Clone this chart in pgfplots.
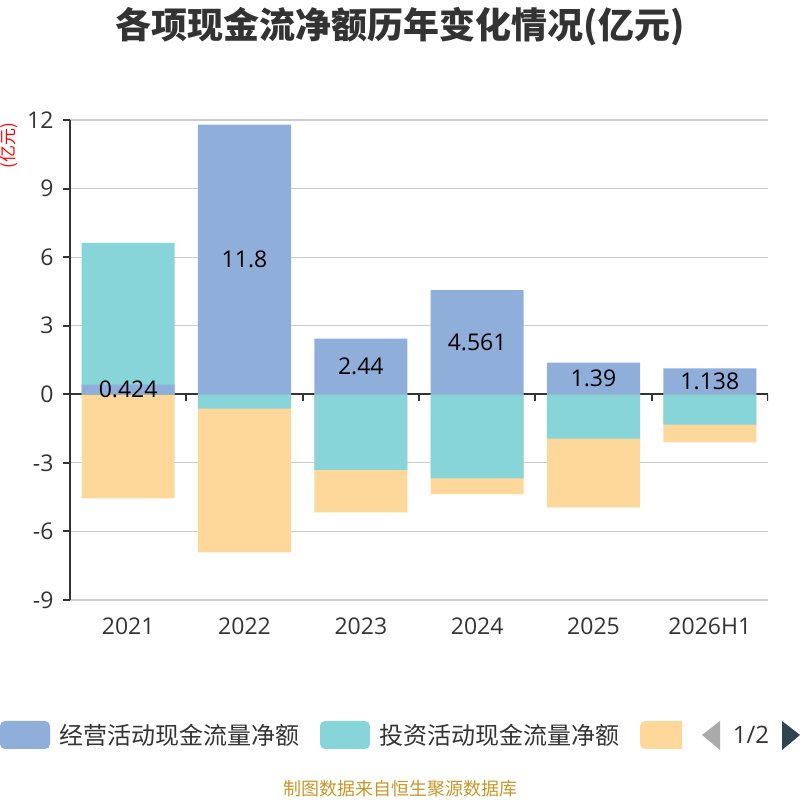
\documentclass[border=0pt]{standalone}
\usepackage{pgfplots}
\pgfplotsset{compat=1.18}
\usepackage{fontspec}
\setmainfont{Open Sans}
\newfontfamily\cjk{Noto Sans CJK SC}
\definecolor{cBlue}{RGB}{143,174,218}
\definecolor{cTeal}{RGB}{135,213,216}
\definecolor{cOrange}{RGB}{254,216,154}
\definecolor{txt}{RGB}{51,51,51}
\definecolor{gridc}{RGB}{204,204,204}
\definecolor{axc}{RGB}{51,51,51}
\definecolor{foot}{RGB}{200,150,40}
\definecolor{pgdark}{RGB}{47,69,84}
\definecolor{pggray}{RGB}{170,170,170}
\begin{document}
\begin{tikzpicture}
\path[use as bounding box] (0,0) rectangle (800pt,800pt);
\node[font=\cjk\bfseries\fontsize{36}{42}\selectfont, text=txt] at (400pt,773pt) {各项现金流净额历年变化情况(亿元)};
\node[rotate=90, font=\cjk\fontsize{17}{20}\selectfont, text=red, inner sep=0pt] at (9.5pt,654pt) {(亿元)};
\begin{axis}[
  at={(70pt,200pt)}, anchor=south west,
  scale only axis, width=698pt, height=480pt,
  xmin=-0.5, xmax=5.5, ymin=-9, ymax=12,
  ybar, bar width=0.8, bar shift=0pt,
  axis lines*=left,
  x axis line style={draw=none},
  y axis line style={draw=axc, line width=2pt},
  xtick={0,...,5},
  xticklabels={2021,2022,2023,2024,2025,2026H1},
  xtick style={draw=none},
  ytick={-9,-6,...,12},
  ytick style={draw=axc, line width=2pt},
  tick align=outside, major tick length=7pt,
  ymajorgrids, grid style={gridc, line width=1.2pt},
  tick label style={font=\fontsize{23}{26}\selectfont, text=txt},
  /pgf/number format/assume math mode=true,
  xticklabel style={yshift=-7pt},
  yticklabel style={xshift=-6pt},
]
\draw[axc, line width=2pt] (axis cs:-0.5,0) -- (axis cs:5.5,0);
\pgfplotsinvokeforeach{0.5,1.5,2.5,3.5,4.5,5.5}{\draw[axc, line width=2pt] (axis cs:#1,0) -- ++(0pt,-7pt);}
% financing (drawn cumulative below the investing part)
\addplot[fill=cOrange, draw=none, bar shift=0pt] coordinates {(0,-4.55) (1,-6.92) (2,-5.17) (3,-4.38) (4,-4.95) (5,-2.10)};
% investing (cumulative on the operating part where positive)
\addplot[fill=cTeal, draw=none, bar shift=0pt] coordinates {(0,6.624) (1,-0.63) (2,-3.31) (3,-3.68) (4,-1.94) (5,-1.33)};
% operating
\addplot[fill=cBlue, draw=none, bar shift=0pt] coordinates {(0,0.424) (1,11.8) (2,2.44) (3,4.561) (4,1.39) (5,1.138)};
% value labels at the middle of the operating bars
\addplot[draw=none, fill=none, bar shift=0pt, nodes near coords, point meta=explicit symbolic,
  every node near coord/.append style={anchor=center, font=\fontsize{23}{26}\selectfont, text=black}]
  coordinates {(0,0.212)[0.424] (1,5.9)[11.8] (2,1.22)[2.44] (3,2.2805)[4.561] (4,0.695)[1.39] (5,0.569)[1.138]};
\end{axis}
\fill[cBlue, rounded corners=5pt] (0pt,51pt) rectangle (50pt,79pt);
\node[anchor=west, font=\cjk\fontsize{24}{28}\selectfont, text=txt, inner sep=0pt] at (59pt,65pt) {经营活动现金流量净额};
\fill[cTeal, rounded corners=5pt] (320pt,51pt) rectangle (370pt,79pt);
\node[anchor=west, font=\cjk\fontsize{24}{28}\selectfont, text=txt, inner sep=0pt] at (379pt,65pt) {投资活动现金流量净额};
\begin{scope}
\clip (630pt,40pt) rectangle (682pt,90pt);
\fill[cOrange, rounded corners=5pt] (640pt,51pt) rectangle (692pt,79pt);
\end{scope}
\fill[pggray] (702pt,65pt) -- (720pt,79pt) -- (720pt,50pt) -- cycle;
\node[font=\fontsize{24}{28}\selectfont, text=txt, inner sep=0pt] at (751pt,65pt) {1/2};
\fill[pgdark] (800pt,65pt) -- (782pt,79pt) -- (782pt,50pt) -- cycle;
\node[font=\cjk\fontsize{18}{21}\selectfont, text=foot] at (400pt,11pt) {制图数据来自恒生聚源数据库};
\end{tikzpicture}
\end{document}
